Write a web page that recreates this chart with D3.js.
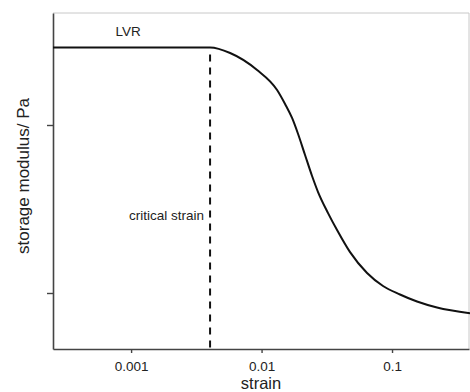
<!DOCTYPE html>
<html>
  <head>
    <meta charset="utf-8">
    <title>Storage modulus vs strain</title>
    <script src="https://d3js.org/d3.v7.min.js"></script>
    <style>
      body { margin: 0; background: #fff; }
      svg text { font-family: "Liberation Sans", Arial, sans-serif; fill: #222; }
    </style>
  </head>
  <body>
    <div id="chart"></div>
    <script>
      // strain amplitude (log) and storage modulus
      var strain = [0.000252, 0.00403, 0.00574, 0.00924, 0.01315, 0.01514, 0.01713, 0.01905, 0.02154, 0.02438,
                    0.0271, 0.03233, 0.0379, 0.04768, 0.06434, 0.08531, 0.1151, 0.1554, 0.2212, 0.396];
      var modulus = [289.3, 289.3, 268.3, 212.5, 161.6, 133.4, 110.1, 88.4, 66.3, 49.7,
                     39.9, 29.9, 23.7, 17.5, 13.15, 11.01, 9.8, 8.9, 8.2, 7.57];
      var criticalStrain = 0.00403;
      var xTicks = [0.001, 0.01, 0.1];
      var xTickLabels = ["0.001", "0.01", "0.1"];
      var yTicks = [10, 100];

      var width = 470, height = 392;
      var margin = { left: 53, right: 469, top: 13, bottom: 349 };

      var svg = d3.select("#chart").append("svg")
        .attr("width", width)
        .attr("height", height);

      var x = d3.scaleLog().domain([0.000252, 0.389]).range([margin.left, margin.right]);
      var y = d3.scaleLog().domain([Math.pow(10, 2 / 3), Math.pow(10, 8 / 3)]).range([margin.bottom, margin.top]);

      // light frame on top and right
      svg.append("path")
        .attr("d", "M" + margin.left + "," + margin.top + "H" + margin.right + "V" + margin.bottom)
        .attr("fill", "none")
        .attr("stroke", "#c8c8c8")
        .attr("stroke-width", 1);

      var xAxis = svg.append("g")
        .attr("transform", "translate(0," + margin.bottom + ")")
        .call(d3.axisBottom(x).tickValues(xTicks).tickSize(4).tickSizeOuter(0).tickPadding(8)
          .tickFormat(function(d, i) { return xTickLabels[i]; }));
      xAxis.selectAll("text").style("font-size", "13.5px");

      svg.append("g")
        .attr("transform", "translate(" + margin.left + ",0)")
        .call(d3.axisLeft(y).tickValues(yTicks).tickSize(6).tickSizeOuter(0).tickFormat(""));

      svg.selectAll(".domain").attr("stroke", "#444").attr("stroke-width", 1.6);
      svg.selectAll(".tick line").attr("stroke", "#444").attr("stroke-width", 1.4);

      // critical strain marker
      svg.append("line")
        .attr("x1", x(criticalStrain)).attr("x2", x(criticalStrain))
        .attr("y1", y(modulus[0]) + 7).attr("y2", margin.bottom)
        .attr("stroke", "#111")
        .attr("stroke-width", 2)
        .attr("stroke-dasharray", "7,6");

      var line = d3.line()
        .x(function(d) { return x(d[0]); })
        .y(function(d) { return y(d[1]); })
        .curve(d3.curveMonotoneX);

      svg.append("path")
        .datum(strain.map(function(s, i) { return [s, modulus[i]]; }))
        .attr("d", line)
        .attr("fill", "none")
        .attr("stroke", "#111")
        .attr("stroke-width", 2);

      svg.append("text")
        .attr("x", x(0.00095))
        .attr("y", y(modulus[0]) - 11)
        .attr("text-anchor", "middle")
        .style("font-size", "13.5px")
        .text("LVR");

      svg.append("text")
        .attr("x", x(criticalStrain) - 6)
        .attr("y", 220)
        .attr("text-anchor", "end")
        .style("font-size", "13.5px")
        .text("critical strain");

      svg.append("text")
        .attr("x", (margin.left + margin.right) / 2)
        .attr("y", 389)
        .attr("text-anchor", "middle")
        .style("font-size", "16.5px")
        .text("strain");

      svg.append("text")
        .attr("transform", "translate(29,176) rotate(-90)")
        .attr("text-anchor", "middle")
        .style("font-size", "17px")
        .text("storage modulus/ Pa");
    </script>
  </body>
</html>
